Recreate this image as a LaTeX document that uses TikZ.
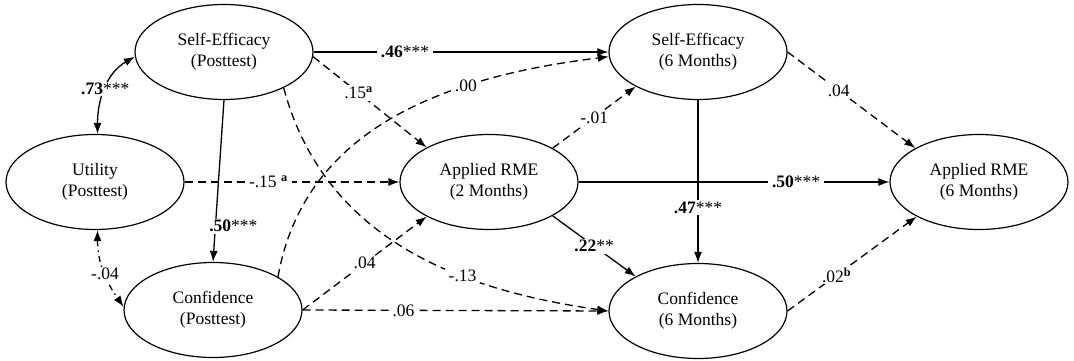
\documentclass[tikz,border=0pt]{standalone}
\usepackage{fontspec}
\setmainfont{Liberation Serif}
\usetikzlibrary{shapes.geometric,arrows.meta}

\begin{document}
\begin{tikzpicture}[x=1pt,y=1pt,
  var/.style={ellipse,draw,line width=1.2pt,minimum width=178pt,minimum height=95pt,
    align=center,font=\fontsize{17.5}{21}\selectfont},
  coef/.style={fill=white,inner xsep=4pt,inner ysep=1.5pt,font=\fontsize{17.5}{21}\selectfont},
  sig/.style={line width=1.3pt,-{Latex[length=11pt,width=8pt]}},
  ns/.style={sig,dash pattern=on 8pt off 5pt},
  cov/.style={line width=1.3pt,{Latex[length=11pt,width=8pt]}-{Latex[length=11pt,width=8pt]}}]
  \useasboundingbox (0,0) rectangle (1074,361);
  % Latent variables
  \node[var] (sepost)   at (224,309) {Self-Efficacy\\(Posttest)};
  \node[var] (util)     at (95,179)  {Utility\\(Posttest)};
  \node[var] (confpost) at (213,51)  {Confidence\\(Posttest)};
  \node[var] (rme2)     at (489,179) {Applied RME\\(2 Months)};
  \node[var] (se6)      at (698,309) {Self-Efficacy\\(6 Months)};
  \node[var] (conf6)    at (698,50)  {Confidence\\(6 Months)};
  \node[var] (rme6)     at (979,179) {Applied RME\\(6 Months)};
  % Covariances
  \draw[cov] (util.87) to[out=90,in=210]
    node[coef,pos=0.5] {\textbf{.73}***} (sepost.183);
  \draw[cov,dash pattern=on 6pt off 4pt on 1.5pt off 4pt] (util.-87) to[out=-90,in=125]
    node[coef,pos=0.55] {-.04} (confpost.178);
  % Solid paths
  \draw[sig] (sepost.south) -- node[coef,pos=0.78,xshift=18pt] {\textbf{.50}***} (confpost.north);
  \draw[sig] (sepost.east) -- node[coef,pos=0.31] {\textbf{.46}***} (se6.west);
  \draw[sig] (rme2.-28) -- node[coef] {\textbf{.22}**} (conf6.151);
  \draw[sig] (se6.south) -- node[coef,pos=0.66] {\textbf{.47}***} (conf6.north);
  \draw[sig] (rme2.east) -- node[coef,pos=0.7] {\textbf{.50}***} (rme6.west);
  % Dashed paths
  \draw[ns] (util.east) -- node[coef,pos=0.39] {-.15 \textsuperscript{\textbf{a}}} (rme2.west);
  \draw[ns] (sepost.-3) -- node[coef,pos=0.4] {.15\textsuperscript{\textbf{a}}} (rme2.151);
  \draw[ns] (sepost.-31) to[out=-75,in=172] node[coef,pos=0.66] {-.13} (conf6.west);
  \draw[ns] (confpost.27) to[out=80,in=187] node[coef,pos=0.68] {.00} (se6.183);
  \draw[ns] (confpost.east) -- node[coef] {.04} (rme2.209);
  \draw[ns] (confpost.east) -- node[coef,pos=0.33] {.06} (conf6.west);
  \draw[ns] (rme2.28) -- node[coef] {-.01} (se6.209);
  \draw[ns] (se6.east) -- node[coef,pos=0.4] {.04} (rme6.152);
  \draw[ns] (conf6.east) -- node[coef,pos=0.38] {.02\textsuperscript{\textbf{b}}} (rme6.209);
\end{tikzpicture}
\end{document}
